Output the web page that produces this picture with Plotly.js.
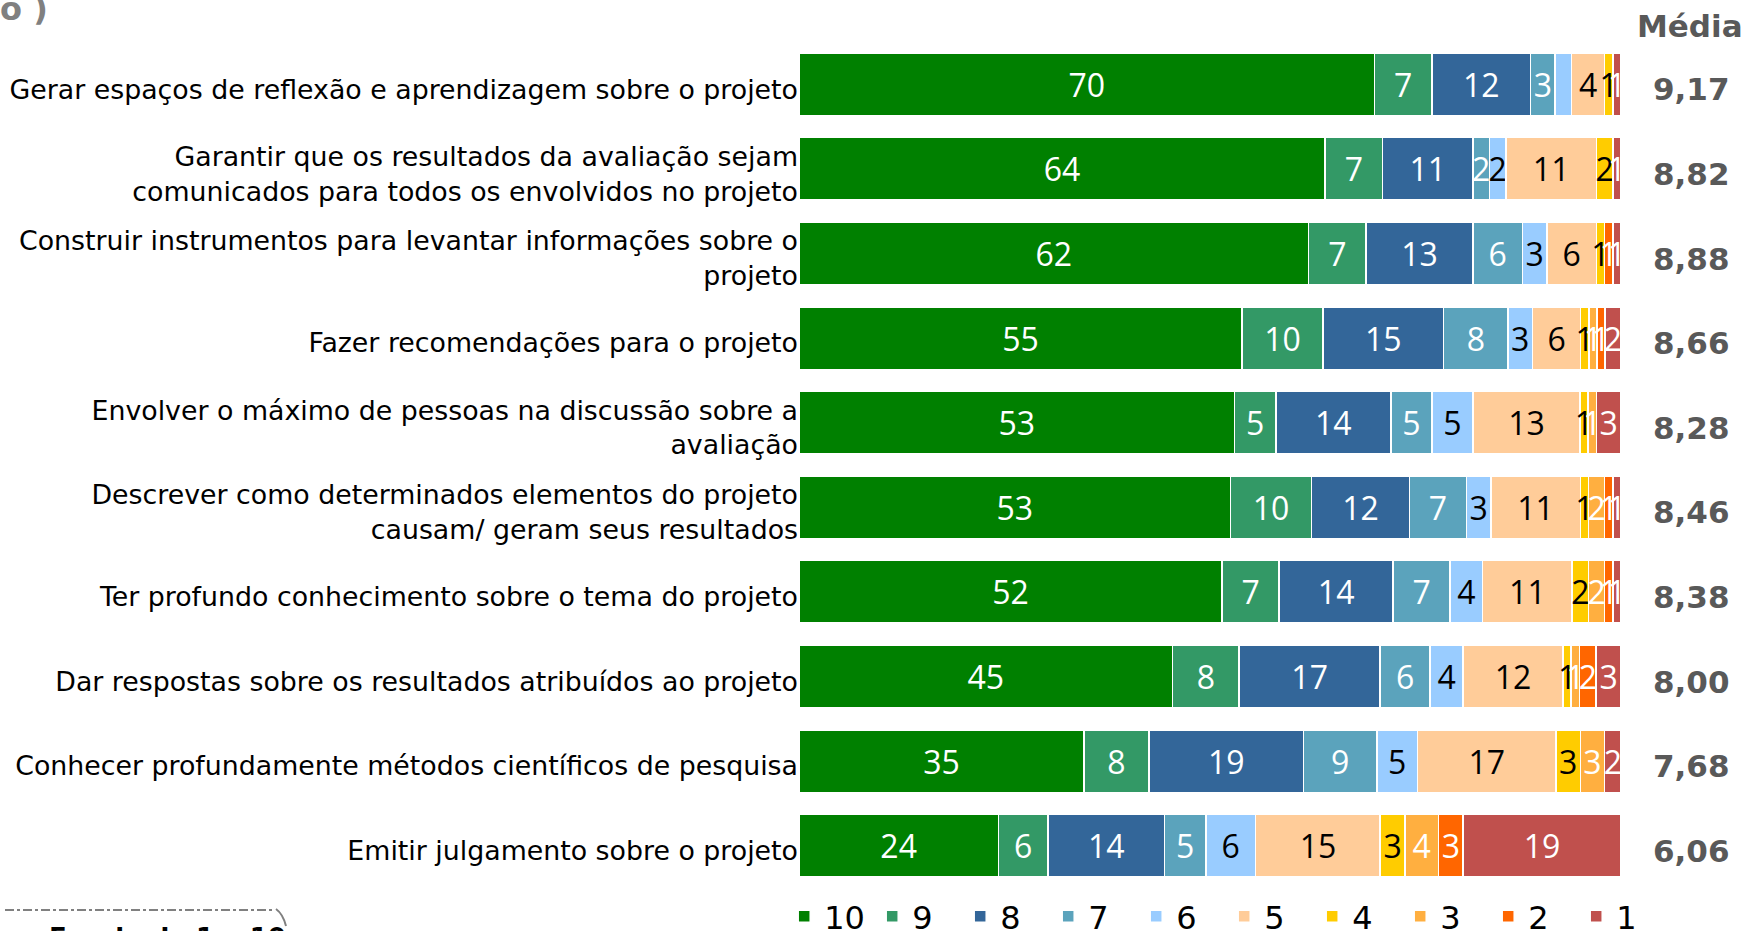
<!DOCTYPE html>
<html>
<head>
<meta charset="utf-8">
<script src="https://cdn.plot.ly/plotly-3.0.1.min.js"></script>
<style>html,body{margin:0;padding:0;background:#fff;}#chart{width:1745px;height:931px;}</style>
</head>
<body>
<div id="chart"></div>
<script>
const categories = [
  "Gerar espaços de reflexão e aprendizagem sobre o projeto",
  "Garantir que os resultados da avaliação sejam<br>comunicados para todos os envolvidos no projeto",
  "Construir instrumentos para levantar informações sobre o<br>projeto",
  "Fazer recomendações para o projeto",
  "Envolver o máximo de pessoas na discussão sobre a<br>avaliação",
  "Descrever como determinados elementos do projeto<br>causam/ geram seus resultados",
  "Ter profundo conhecimento sobre o tema do projeto",
  "Dar respostas sobre os resultados atribuídos ao projeto",
  "Conhecer profundamente métodos científicos de pesquisa",
  "Emitir julgamento sobre o projeto"
];
const scoreNames = ["10","9","8","7","6","5","4","3","2","1"];
const s10 = [70,64,62,55,53,53,52,45,35,24];
const s9  = [7,7,7,10,5,10,7,8,8,6];
const s8  = [12,11,13,15,14,12,14,17,19,14];
const s7  = [3,2,6,8,5,7,7,6,9,5];
const s6  = [2,2,3,3,5,3,4,4,5,6];
const s5  = [4,11,6,6,13,11,11,12,17,15];
const s4  = [1,2,1,1,1,1,2,1,3,3];
const s3  = [0,0,0,1,1,2,2,1,3,4];
const s2  = [0,0,1,1,0,1,1,2,0,3];
const s1  = [1,1,1,2,3,1,1,3,2,19];
const medias = ["9,17","8,82","8,88","8,66","8,28","8,46","8,38","8,00","7,68","6,06"];
// labels not shown in the original: [seriesIndex, rowIndex]
const hiddenLabels = [[4,0]];

const series = [s10,s9,s8,s7,s6,s5,s4,s3,s2,s1];
const colors = ["#008000","#339966","#336699","#5BA3BC","#99CCFF","#FFCC99","#FFCC00","#FFAF40","#FF6600","#C0504D"];
const textColors = ["#fff","#fff","#fff","#fff","#000","#000","#000","#fff","#fff","#fff"];

const traces = series.map((vals, si) => ({
  type: "bar",
  orientation: "h",
  name: scoreNames[si],
  y: categories,
  x: vals,
  text: vals.map((v, ri) => (v > 0 && !hiddenLabels.some(h => h[0] === si && h[1] === ri)) ? String(v) : ""),
  textposition: "inside",
  insidetextanchor: "middle",
  textangle: 0,
  constraintext: "none",
  insidetextfont: {family: "Open Sans, DejaVu Sans, sans-serif", size: 32, color: textColors[si]},
  marker: {color: colors[si], line: {color: "#ffffff", width: 1.5}},
  hoverinfo: "name+x+y"
}));

const annotations = categories.map((c, i) => ({
  xref: "paper", yref: "y", x: 1.086, y: c, yshift: -5,
  text: medias[i], showarrow: false, xanchor: "center", yanchor: "middle",
  font: {family: "DejaVu Sans, sans-serif", size: 31, color: "#595959", weight: "bold"}
}));
annotations.push({
  xref: "paper", yref: "paper", x: 1.084, y: 1.0, yanchor: "bottom", xanchor: "center", yshift: -4,
  text: "<b>Média</b>", showarrow: false,
  font: {family: "DejaVu Sans, sans-serif", size: 31, color: "#595959"}
});
annotations.push({
  xref: "paper", yref: "paper", x: -801/822, y: 1.0, xanchor: "left", yanchor: "bottom", yshift: 12,
  text: "<b>o )</b>", showarrow: false,
  font: {family: "DejaVu Sans, sans-serif", size: 32, color: "#808080"}
});
annotations.push({
  xref: "paper", yref: "paper", x: -752/822, y: 0, xanchor: "left", yanchor: "top", yshift: -33,
  text: "<b>Escala de 1 a 10</b>", showarrow: false,
  font: {family: "DejaVu Sans, sans-serif", size: 26, color: "#000"}
});

const layout = {
  width: 1745, height: 931,
  margin: {l: 799, r: 124, t: 42, b: 43, pad: 0, autoexpand: false},
  paper_bgcolor: "#ffffff", plot_bgcolor: "#ffffff",
  barmode: "stack",
  barnorm: "percent",
  bargap: 0.26,
  showlegend: true,
  legend: {
    orientation: "h", traceorder: "normal",
    x: -0.018, xanchor: "left", y: -0.001, yanchor: "top",
    entrywidth: 43, entrywidthmode: "pixels",
    font: {family: "DejaVu Sans, sans-serif", size: 32, color: "#000"},
    itemclick: false, itemdoubleclick: false,
    tracegroupgap: 0
  },
  xaxis: {range: [0, 100], visible: false, fixedrange: true},
  yaxis: {
    autorange: "reversed", type: "category",
    showgrid: false, zeroline: false, showline: false, ticks: "",
    ticklabelstandoff: 0, ticklabelshift: -5,
    tickfont: {family: "DejaVu Sans, sans-serif", size: 26.8, color: "#000"},
    fixedrange: true
  },
  shapes: [
    {type: "line", xref: "paper", yref: "paper", x0: -794/822, x1: -526/822, y0: -22/846, y1: -22/846,
     line: {color: "#808080", width: 2, dash: "dashdot"}},
    {type: "path", xref: "paper", yref: "paper",
     path: "M " + (-523/822) + "," + (-21/846) + " Q " + (-516/822) + "," + (-26/846) + " " + (-513/822) + "," + (-38/846),
     line: {color: "#808080", width: 2}}
  ],
  annotations: annotations
};

Plotly.newPlot("chart", traces, layout, {displayModeBar: false, responsive: false});
</script>
</body>
</html>
